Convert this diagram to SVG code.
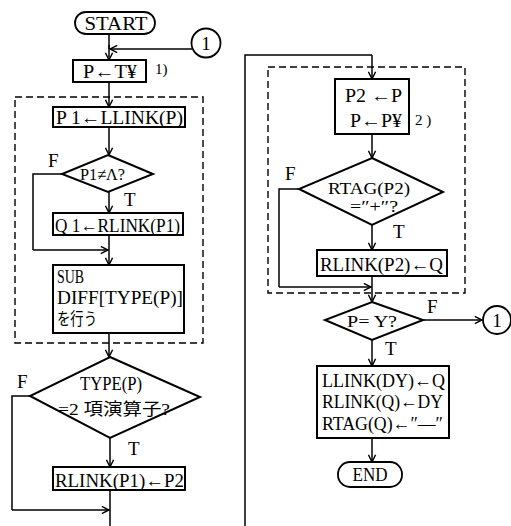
<svg xmlns="http://www.w3.org/2000/svg" width="511" height="526" viewBox="0 0 511 526">
  <defs>
    <style>
      .box { fill: #fff; stroke: #000; stroke-width: 2; }
      .term { fill: #fff; stroke: #000; stroke-width: 1.8; }
      .dash { fill: none; stroke: #000; stroke-width: 1.4; stroke-dasharray: 7 4; }
      .line { fill: none; stroke: #000; stroke-width: 1.5; }
      .arr { fill: none; stroke: #000; stroke-width: 1.5; marker-end: url(#head); }
      text { font-family: "Liberation Serif", "Noto Sans CJK JP", serif; font-size: 19px; fill: #000; }
      .c { text-anchor: middle; }
      .sm { font-size: 15px; }
      .md { font-size: 17px; }
    </style>
    <marker id="head" viewBox="0 0 10 10" refX="9" refY="5" markerWidth="9" markerHeight="9" markerUnits="userSpaceOnUse" orient="auto">
      <path d="M1,1 L9,5 L1,9" fill="none" stroke="#000" stroke-width="1.6"/>
    </marker>
  </defs>
  <rect width="511" height="526" fill="#fff"/>

  <!-- dashed grouping frames -->
  <g id="frames">
    <rect class="dash" x="15" y="97" width="188" height="246"/>
    <rect class="dash" x="268" y="67" width="197" height="226"/>
  </g>

  <!-- connectors -->
  <g id="connectors">
    <path class="line" d="M109,33 V49"/>
    <path class="arr" d="M109,45 V60"/>
    <path class="arr" d="M192,49 H110"/>
    <path class="arr" d="M109,82 V107"/>
    <path class="arr" d="M109,127 V155"/>
    <path class="arr" d="M109,192 V213"/>
    <path class="line" d="M62,174 H33 V250"/>
    <path class="arr" d="M33,250 H108"/>
    <path class="arr" d="M109,235 V265"/>
    <path class="arr" d="M109,333 V357"/>
    <path class="arr" d="M110,438 V467"/>
    <path class="line" d="M30,396 H12 V510"/>
    <path class="arr" d="M12,510 H109"/>
    <path class="line" d="M110,490 V526"/>
    <path class="line" d="M245,526 V55 H372"/>
    <path class="arr" d="M372,55 V79"/>
    <path class="arr" d="M372,134 V158"/>
    <path class="arr" d="M372,225 V250"/>
    <path class="line" d="M299,189 H279 V287"/>
    <path class="arr" d="M279,287 H371"/>
    <path class="arr" d="M372,276 V302"/>
    <path class="arr" d="M423,320 H482"/>
    <path class="arr" d="M372,340 V366"/>
    <path class="arr" d="M372,438 V462"/>
  </g>

  <g id="start">
    <rect class="term" x="75" y="12" width="80" height="22" rx="11"/>
    <text class="c" x="116" y="30" textLength="63" lengthAdjust="spacingAndGlyphs">START</text>
  </g>

  <g id="conn-in">
    <circle class="term" cx="206" cy="43" r="14.5"/>
    <text class="c" x="206" y="50">1</text>
  </g>

  <g id="p-ty">
    <rect class="box" x="73" y="60" width="73" height="22"/>
    <text x="83" y="78" textLength="54" lengthAdjust="spacingAndGlyphs">P←T¥</text>
    <text class="sm" x="155" y="74">1)</text>
  </g>

  <g id="p1-llink">
    <rect class="box" x="53" y="107" width="132" height="20"/>
    <text x="56" y="124" textLength="127" lengthAdjust="spacingAndGlyphs">P 1←LLINK(P)</text>
  </g>

  <g id="p1-null">
    <polygon class="box" points="108,155 153,174 108,192 62,174"/>
    <text class="md" x="80" y="180" textLength="45" lengthAdjust="spacingAndGlyphs">P1≠Λ?</text>
    <text x="48" y="167">F</text>
    <text x="124" y="206">T</text>
  </g>

  <g id="q1-rlink">
    <rect class="box" x="53" y="213" width="130" height="22"/>
    <text x="55" y="232" textLength="125" lengthAdjust="spacingAndGlyphs">Q 1←RLINK(P1)</text>
  </g>

  <g id="sub-diff">
    <rect class="box" x="53" y="265" width="131" height="68"/>
    <text x="57" y="283" textLength="27" lengthAdjust="spacingAndGlyphs">SUB</text>
    <text x="57" y="304" textLength="126" lengthAdjust="spacingAndGlyphs">DIFF[TYPE(P)]</text>
    <text class="md" x="57" y="325" textLength="40" lengthAdjust="spacingAndGlyphs">を行う</text>
  </g>

  <g id="type-check">
    <polygon class="box" points="110,357 200,397 110,438 30,396"/>
    <text x="80" y="390" textLength="62" lengthAdjust="spacingAndGlyphs">TYPE(P)</text>
    <text class="md" x="58" y="415" textLength="112" lengthAdjust="spacingAndGlyphs">=2 項演算子?</text>
    <text x="17" y="388">F</text>
    <text x="128" y="455">T</text>
  </g>

  <g id="rlink-p1">
    <rect class="box" x="53" y="467" width="132" height="23"/>
    <text x="55" y="487" textLength="129" lengthAdjust="spacingAndGlyphs">RLINK(P1)←P2</text>
  </g>

  <g id="p2-p">
    <rect class="box" x="335" y="79" width="74" height="55"/>
    <text x="345" y="102" textLength="57" lengthAdjust="spacingAndGlyphs">P2 ←P</text>
    <text x="350" y="127" textLength="52" lengthAdjust="spacingAndGlyphs">P←P¥</text>
    <text class="sm" x="415" y="125">2 )</text>
  </g>

  <g id="rtag-check">
    <polygon class="box" points="372,158 443,192 372,225 299,189"/>
    <text class="md" x="328" y="194" textLength="82" lengthAdjust="spacingAndGlyphs">RTAG(P2)</text>
    <text class="md" x="350" y="212" textLength="48" lengthAdjust="spacingAndGlyphs">=″+″?</text>
    <text x="285" y="180">F</text>
    <text x="393" y="238">T</text>
  </g>

  <g id="rlink-p2">
    <rect class="box" x="317" y="250" width="130" height="26"/>
    <text x="320" y="271" textLength="123" lengthAdjust="spacingAndGlyphs">RLINK(P2)←Q</text>
  </g>

  <g id="p-eq-y">
    <polygon class="box" points="372,302 423,320 372,340 325,320"/>
    <text class="md" x="347" y="327" textLength="50" lengthAdjust="spacingAndGlyphs">P= Y?</text>
    <text x="427" y="313">F</text>
    <text x="385" y="355">T</text>
  </g>

  <g id="conn-out">
    <circle class="term" cx="497" cy="320" r="14"/>
    <text class="c" x="497" y="327">1</text>
  </g>

  <g id="relink">
    <rect class="box" x="317" y="366" width="132" height="72"/>
    <text x="322" y="387" textLength="123" lengthAdjust="spacingAndGlyphs">LLINK(DY)←Q</text>
    <text x="322" y="408" textLength="121" lengthAdjust="spacingAndGlyphs">RLINK(Q)←DY</text>
    <text x="322" y="430" textLength="121" lengthAdjust="spacingAndGlyphs">RTAG(Q)←″—″</text>
  </g>

  <g id="end">
    <rect class="term" x="338" y="462" width="64" height="25" rx="12"/>
    <text class="c" x="370" y="481" textLength="35" lengthAdjust="spacingAndGlyphs">END</text>
  </g>
</svg>
